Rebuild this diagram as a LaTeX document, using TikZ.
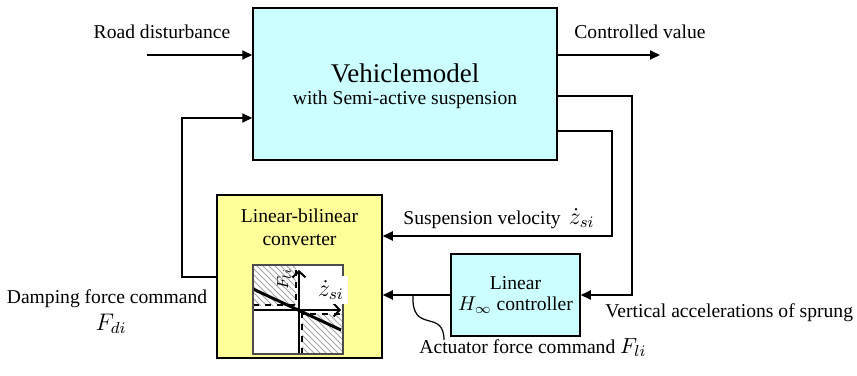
\documentclass[tikz,border=0pt]{standalone}
\usepackage{fontspec}
\setmainfont{Liberation Serif}
\usepackage{amsmath}
\usetikzlibrary{arrows.meta,positioning,patterns}

\definecolor{vmcyan}{RGB}{204,255,255}
\definecolor{convyellow}{RGB}{255,255,153}

\begin{document}
\begin{tikzpicture}[
  x=0.5pt, y=-0.5pt,
  every node/.style={font=\fontsize{9.8}{11}\selectfont, inner sep=1pt},
  block/.style={draw, line width=0.75pt, inner sep=0pt},
  link/.style={line width=1pt, -{Triangle[length=5pt,width=4.5pt]}},
  axis/.style={line width=1pt, -{Straight Barb[length=3pt,width=6.5pt]}},
  bigmath/.style={font=\fontsize{12}{14}\selectfont}
]
\useasboundingbox (0,0) rectangle (857,375);

% blocks
\node[block, fill=vmcyan, minimum width=152pt, minimum height=76pt] (vm) at (405,84) {};
\node[anchor=base, font=\fontsize{13.5}{16}\selectfont] (vmname) at (405,82) {Vehiclemodel};
\node[anchor=base] (vmsub) at (405,104) {with Semi-active suspension};

\node[block, fill=convyellow, minimum width=82.5pt, minimum height=81.5pt] (conv) at (299.5,276.5) {};
\node[anchor=base] (convname) at (299.5,222) {Linear-bilinear};
\node[anchor=base] (convsub) at (299.5,245) {converter};

\node[block, fill=vmcyan, minimum width=64.5pt, minimum height=41pt, align=center,
  font=\fontsize{9.8}{10.5}\selectfont] (ctrl) at (515.5,295) {Linear\\$H_\infty$ controller};

% converter characteristic
\fill[white] (253,265) rectangle (343,354);
\fill[pattern=north west lines, pattern color=gray!70] (253,265) rectangle (296,305);
\fill[pattern=north west lines, pattern color=gray!70] (302,314) rectangle (343,354);
\draw[dashed, line width=0.6pt] (253,305) -- (296,305) -- (296,265);
\draw[dashed, line width=0.6pt] (302,354) -- (302,314) -- (343,314);
\draw[line width=1.5pt] (253,289) -- (341,330);
\draw[axis] (299,354) -- (299,270);
\draw[axis] (253,310) -- (341,310);
\draw[line width=0.75pt, gray!60!black] (253,265) rectangle (343,354);
\node[fill=white, inner sep=2pt, bigmath] (zdot) at (331,290) {$\dot{z}_{si}$};
\node[rotate=90, inner sep=0pt, font=\fontsize{8}{9}\selectfont] (fli) at (284,279) {$F_{li}$};

% signals
\coordinate (rd) at (147,55);
\coordinate (cv) at (660,55);
\coordinate (acc1) at (632,96);
\coordinate (vel1) at (612,131);
\coordinate (vel2) at (612,236);
\coordinate (fb1) at (182,277);
\coordinate (fb2) at (182,118);

\draw[link] (rd) -- (rd -| vm.west);
\draw[link] (cv -| vm.east) -- (cv);
\draw[link] (acc1 -| vm.east) -- (acc1) |- (ctrl.east);
\draw[link] (vel1 -| vm.east) -- (vel1) -- (vel2) -- (vel2 -| conv.east);
\draw[link] (ctrl.west) -- (ctrl.west -| conv.east);
\draw[link] (fb1 -| conv.west) -- (fb1) -- (fb2) -- (fb2 -| vm.west);

% pointer to actuator command
\coordinate (ptrtop) at (413,295);
\coordinate (ptrend) at (444,340);
\draw[line width=0.6pt] (ptrtop) .. controls (411,335) and (444,308) .. (ptrend);

% labels
\node[anchor=base west] (vellbl) at (401,224) {Suspension velocity\, \fontsize{11.5}{13}\selectfont$\dot{z}_{si}$};
\node[anchor=base] (roadlbl) at (162,39) {Road disturbance};
\node[anchor=base] (cvlbl) at (640,39) {Controlled value};
\node[anchor=base west] (acclbl) at (603,317) {Vertical accelerations of sprung};
\node[anchor=base west] (actlbl) at (417,353) {Actuator force command \fontsize{11}{13}\selectfont$F_{li}$};
\node[anchor=base] (dmplbl) at (107,303) {Damping force command};
\node[anchor=base, bigmath] (fdi) at (111,330) {$F_{di}$};
\end{tikzpicture}
\end{document}
